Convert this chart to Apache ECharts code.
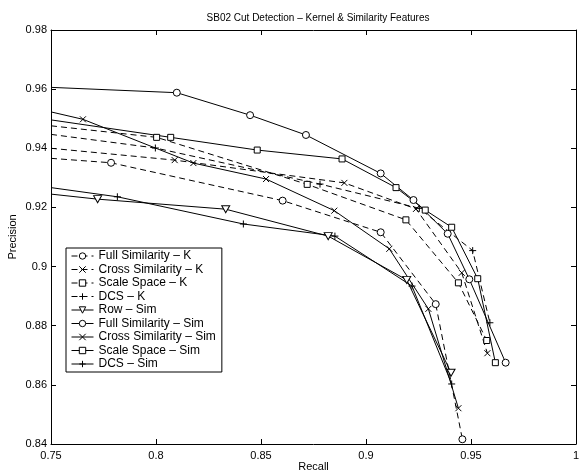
<!DOCTYPE html>
<html>
<head>
<meta charset="utf-8">
<script src="https://cdn.jsdelivr.net/npm/echarts@6/dist/echarts.min.js"></script>
<style>
  html, body { margin: 0; padding: 0; background: #fff; }
  #chart { width: 579px; height: 472px; }
</style>
</head>
<body>
<div id="chart"></div>
<script>
// series names, in legend order
const seriesNames = [
  'Full Similarity – K', 'Cross Similarity – K', 'Scale Space – K', 'DCS – K',
  'Row – Sim', 'Full Similarity – Sim', 'Cross Similarity – Sim', 'Scale Space – Sim', 'DCS – Sim'
]
// [recall, precision] points, the first one is where the curve enters at the left edge
const fullSimK = [[0.75, 0.9366], [0.7786, 0.9351], [0.8603, 0.9223], [0.907, 0.9116], [0.9332, 0.8873], [0.9459, 0.8416]]
const crossSimK = [[0.75, 0.940], [0.8089, 0.936], [0.8897, 0.9283], [0.9238, 0.9195], [0.9456, 0.8979], [0.9578, 0.8707]]
const scaleK = [[0.75, 0.9476], [0.8003, 0.9437], [0.872, 0.9278], [0.919, 0.9158], [0.944, 0.8945], [0.9575, 0.875]]
const dcsK = [[0.75, 0.9447], [0.7997, 0.9401], [0.8781, 0.9279], [0.9254, 0.9197], [0.9508, 0.9054], [0.959, 0.881]]
const rowSim = [[0.75, 0.9245], [0.7722, 0.9228], [0.8332, 0.9194], [0.882, 0.9103], [0.9194, 0.8955], [0.9405, 0.8641]]
const fullSimSim = [[0.75, 0.9606], [0.8099, 0.9588], [0.8448, 0.9512], [0.8714, 0.9445], [0.907, 0.9315], [0.9226, 0.9225], [0.9389, 0.9111], [0.9492, 0.8957], [0.9665, 0.8675]]
const crossSimSim = [[0.75, 0.9523], [0.7652, 0.9498], [0.8178, 0.935], [0.8524, 0.9296], [0.8849, 0.9189], [0.9111, 0.906], [0.9297, 0.8857], [0.944, 0.8521]]
const scaleSim = [[0.75, 0.9496], [0.807, 0.9437], [0.8482, 0.9394], [0.8886, 0.9364], [0.9143, 0.9267], [0.9282, 0.9191], [0.9408, 0.9133], [0.9532, 0.8959], [0.9616, 0.8675]]
const dcsSim = [[0.75, 0.9267], [0.7816, 0.9236], [0.8416, 0.9144], [0.8852, 0.9103], [0.9219, 0.8934], [0.9408, 0.8603]]

const xMin = 0.75
const font = 'Liberation Sans, Arial, Helvetica, sans-serif'

const marks = {
  circle: { symbol: 'circle', size: 7 },
  cross: { symbol: 'path://M0,0L10,10M10,0L0,10', size: 6 },
  square: { symbol: 'rect', size: 6 },
  plus: { symbol: 'path://M5,0L5,10M0,5L10,5', size: 7 },
  tri: { symbol: 'path://M0,0L10,0L5,9Z', size: [8, 7] }
}

const mk = (name, pts, mark, dashed) => ({
  name: name,
  type: 'line',
  data: pts.map(p => p[0] <= xMin ? { value: p, symbol: 'none' } : p),
  symbol: marks[mark].symbol,
  symbolSize: marks[mark].size,
  showAllSymbol: true,
  clip: true,
  lineStyle: { color: '#000', width: 1, type: dashed ? [6, 4] : 'solid' },
  itemStyle: { color: '#fff', borderColor: '#000', borderWidth: 1 },
  emphasis: { disabled: true }
})

const chart = echarts.init(document.getElementById('chart'))
const option = {
  animation: false,
  backgroundColor: '#fff',
  title: {
    text: 'SB02 Cut Detection – Kernel & Similarity Features',
    left: 313,
    top: 8,
    textAlign: 'center',
    textStyle: { fontSize: 10, fontWeight: 'normal', color: '#000', fontFamily: font }
  },
  grid: { left: 51, right: 3, top: 30, bottom: 28, outerBoundsMode: 'none', containLabel: false },
  legend: {
    orient: 'vertical',
    left: 66,
    top: 248,
    data: seriesNames,
    itemWidth: 22,
    itemHeight: 8,
    itemGap: 1.5,
    padding: [2, 6, 2, 5],
    borderColor: '#000',
    borderWidth: 1,
    backgroundColor: '#fff',
    selectedMode: false,
    itemStyle: { borderWidth: 1 },
    lineStyle: { width: 1 },
    textStyle: { fontSize: 12, lineHeight: 12, color: '#000', fontFamily: font }
  },
  xAxis: [
    {
      type: 'value', min: 0.75, max: 1, interval: 0.05,
      name: 'Recall', nameLocation: 'middle', nameGap: 17, nameMoveOverlap: false,
      nameTextStyle: { fontSize: 11, color: '#000', fontFamily: font },
      axisLine: { lineStyle: { color: '#000', width: 1 } },
      axisTick: { inside: true, length: 5, lineStyle: { color: '#000' } },
      axisLabel: { fontSize: 11, color: '#000', fontFamily: font, margin: 6 },
      splitLine: { show: false }
    },
    {
      type: 'value', min: 0.75, max: 1, interval: 0.05, position: 'top',
      axisLine: { lineStyle: { color: '#000', width: 1 } },
      axisTick: { inside: true, length: 5, lineStyle: { color: '#000' } },
      axisLabel: { show: false },
      splitLine: { show: false }
    }
  ],
  yAxis: [
    {
      type: 'value', min: 0.84, max: 0.98, interval: 0.02,
      name: 'Precision', nameLocation: 'middle', nameGap: 33, nameMoveOverlap: false,
      nameTextStyle: { fontSize: 11, color: '#000', fontFamily: font },
      axisLine: { show: true, lineStyle: { color: '#000', width: 1 } },
      axisTick: { show: true, inside: true, length: 5, lineStyle: { color: '#000' } },
      axisLabel: { fontSize: 11, color: '#000', fontFamily: font, margin: 4 },
      splitLine: { show: false }
    },
    {
      type: 'value', min: 0.84, max: 0.98, interval: 0.02, position: 'right',
      axisLine: { show: true, lineStyle: { color: '#000', width: 1 } },
      axisTick: { show: true, inside: true, length: 5, lineStyle: { color: '#000' } },
      axisLabel: { show: false },
      splitLine: { show: false }
    }
  ],
  series: [
    mk(seriesNames[0], fullSimK, 'circle', true),
    mk(seriesNames[1], crossSimK, 'cross', true),
    mk(seriesNames[2], scaleK, 'square', true),
    mk(seriesNames[3], dcsK, 'plus', true),
    mk(seriesNames[4], rowSim, 'tri', false),
    mk(seriesNames[5], fullSimSim, 'circle', false),
    mk(seriesNames[6], crossSimSim, 'cross', false),
    mk(seriesNames[7], scaleSim, 'square', false),
    mk(seriesNames[8], dcsSim, 'plus', false)
  ]
}
chart.setOption(option)
</script>
</body>
</html>
